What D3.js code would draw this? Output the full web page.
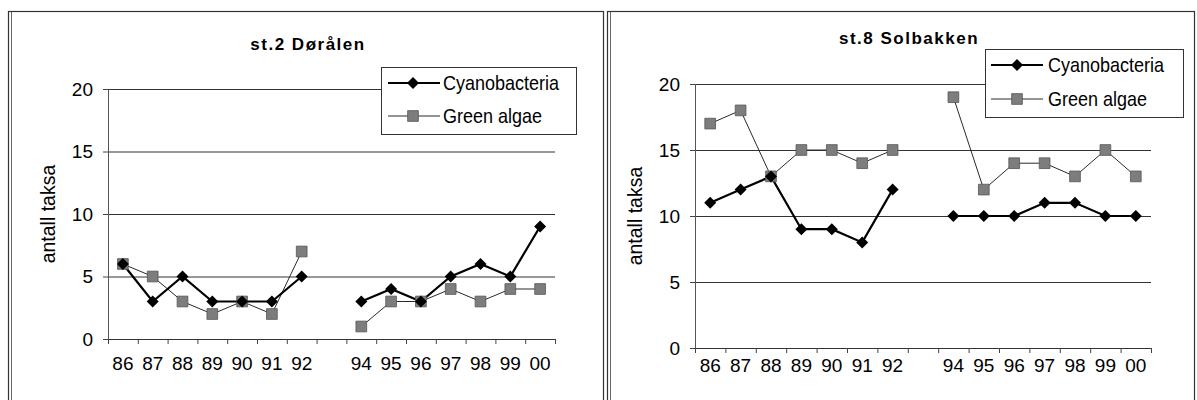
<!DOCTYPE html>
<html>
<head>
<meta charset="utf-8">
<script src="https://cdn.jsdelivr.net/npm/d3@7"></script>
<style>
  html, body { margin: 0; padding: 0; background: #fff; }
  svg { display: block; font-family: "Liberation Sans", Arial, sans-serif; }
</style>
</head>
<body>
<svg id="chart" width="1197" height="400"></svg>
<script>
// ---- data ----
const categories = ["86","87","88","89","90","91","92","93","94","95","96","97","98","99","00"];
const tickLabels = ["86","87","88","89","90","91","92","","94","95","96","97","98","99","00"];
const yTicks = [0, 5, 10, 15, 20];
const seriesNames = ["Cyanobacteria", "Green algae"];
const doralenCyano = [6, 3, 5, 3, 3, 3, 5, null, 3, 4, 3, 5, 6, 5, 9];
const doralenGreen = [6, 5, 3, 2, 3, 2, 7, null, 1, 3, 3, 4, 3, 4, 4];
const solbakkenCyano = [11, 12, 13, 9, 9, 8, 12, null, 10, 10, 10, 11, 11, 10, 10];
const solbakkenGreen = [17, 18, 13, 15, 15, 14, 15, null, 19, 12, 14, 14, 13, 15, 13];
const titles = ["st.2 Dørålen", "st.8 Solbakken"];
const yAxisTitle = "antall taksa";

// ---- layout ----
const layouts = [
  { frame: {x: 8, y: 11, w: 595, h: 400}, plot: {l: 108, r: 555, t: 89, b: 339},
    title: {x: 308, y: 44}, ylab: {x: 48}, xlabY: 363,
    legend: {x: 381, y: 67, w: 195, h: 67, r1: 83, r2: 116, l0: 388, l1: 440, m: 413, tx: 443} },
  { frame: {x: 607, y: 11, w: 587, h: 400}, plot: {l: 695, r: 1151, t: 84, b: 348},
    title: {x: 909, y: 38}, ylab: {x: 635}, xlabY: 365,
    legend: {x: 985, y: 49, w: 198, h: 68, r1: 65, r2: 99, l0: 991, l1: 1043, m: 1017, tx: 1048} }
];
const dataSets = [[doralenCyano, doralenGreen], [solbakkenCyano, solbakkenGreen]];

const svg = d3.select("#chart");
const squareFill = "#7d7d7d";

function drawChart(L, data, title) {
  const g = svg.append("g");
  // frame
  g.append("rect").attr("x", L.frame.x + 0.5).attr("y", L.frame.y + 0.5)
    .attr("width", L.frame.w).attr("height", L.frame.h)
    .attr("fill", "none").attr("stroke", "#333").attr("stroke-width", 1.2);
  g.append("line").attr("x1", L.frame.x + 3.5).attr("x2", L.frame.x + 3.5)
    .attr("y1", L.frame.y + 1).attr("y2", 400).attr("stroke", "#666").attr("stroke-width", 1);

  const x = d3.scaleBand().domain(categories).range([L.plot.l, L.plot.r]).padding(0);
  const xb = d3.scaleLinear().domain([0, categories.length]).range([L.plot.l, L.plot.r]);
  const y = d3.scaleLinear().domain([0, 20]).range([L.plot.b, L.plot.t]);
  const w = L.plot.r - L.plot.l;

  // gridlines
  g.append("g").attr("transform", `translate(${L.plot.l},0)`)
    .call(d3.axisLeft(y).tickValues(yTicks.filter(v => v > 0)).tickSize(-w).tickFormat(""))
    .call(a => a.select(".domain").remove())
    .call(a => a.selectAll("line").attr("stroke", "#333").attr("stroke-width", 1));

  // y axis
  g.append("g").attr("transform", `translate(${L.plot.l},0)`)
    .call(d3.axisLeft(y).tickValues(yTicks).tickSize(5).tickPadding(10))
    .call(a => a.select(".domain").attr("stroke", "#555"))
    .call(a => a.selectAll("line").attr("stroke", "#444"))
    .call(a => a.selectAll("text").attr("font-size", 19).attr("fill", "#000")
      .attr("font-family", "Liberation Sans, Arial, sans-serif"));

  // x axis with boundary ticks
  g.append("g").attr("transform", `translate(0,${L.plot.b})`)
    .call(d3.axisBottom(xb).tickValues(d3.range(categories.length + 1)).tickSize(5).tickFormat(""))
    .call(a => a.select(".domain").attr("stroke", "#333"))
    .call(a => a.selectAll("line").attr("stroke", "#444"));
  g.append("g").attr("transform", `translate(0,${L.plot.b})`)
    .call(d3.axisBottom(x).tickSize(0).tickFormat((d, i) => tickLabels[i]))
    .call(a => a.select(".domain").remove())
    .call(a => a.selectAll("text").attr("y", 0).attr("dy", null)
      .attr("transform", `translate(0,${L.xlabY - L.plot.b})`)
      .attr("dominant-baseline", "central")
      .attr("font-size", 19).attr("fill", "#000")
      .attr("font-family", "Liberation Sans, Arial, sans-serif"));

  // titles
  g.append("text").attr("x", L.title.x).attr("y", L.title.y).attr("text-anchor", "middle")
    .attr("dominant-baseline", "central").attr("font-weight", "bold").attr("font-size", 17)
    .attr("letter-spacing", 1.5).text(title);
  const cy = (L.plot.t + L.plot.b) / 2;
  g.append("text").attr("transform", `translate(${L.ylab.x},${cy}) rotate(-90)`)
    .attr("text-anchor", "middle").attr("dominant-baseline", "central")
    .attr("font-size", 19.5).text(yAxisTitle);

  const pts = arr => categories.map((c, i) => ({c, v: arr[i]}));
  const line = d3.line().defined(d => d.v != null)
    .x(d => x(d.c) + x.bandwidth() / 2).y(d => y(d.v));

  const diamond = d3.symbol(d3.symbolSquare, 72);
  const square = d3.symbol(d3.symbolSquare, 115);

  // green algae
  const green = pts(data[1]);
  g.append("path").attr("d", line(green)).attr("fill", "none")
    .attr("stroke", "#2a2a2a").attr("stroke-width", 1);
  // cyanobacteria
  const cyano = pts(data[0]);
  g.append("path").attr("d", line(cyano)).attr("fill", "none")
    .attr("stroke", "#000").attr("stroke-width", 2.2);
  g.selectAll(null).data(green.filter(d => d.v != null)).join("path")
    .attr("transform", d => `translate(${x(d.c) + x.bandwidth() / 2},${y(d.v)})`)
    .attr("d", square).attr("fill", squareFill).attr("stroke", "#555").attr("stroke-width", 0.8);
  g.selectAll(null).data(cyano.filter(d => d.v != null)).join("path")
    .attr("transform", d => `translate(${x(d.c) + x.bandwidth() / 2},${y(d.v)}) rotate(45)`)
    .attr("d", diamond).attr("fill", "#000");

  // legend
  const Lg = L.legend;
  const lg = g.append("g");
  lg.append("rect").attr("x", Lg.x + 0.5).attr("y", Lg.y + 0.5).attr("width", Lg.w).attr("height", Lg.h)
    .attr("fill", "#fff").attr("stroke", "#333").attr("stroke-width", 1);
  lg.append("line").attr("x1", Lg.l0).attr("x2", Lg.l1).attr("y1", Lg.r1).attr("y2", Lg.r1)
    .attr("stroke", "#000").attr("stroke-width", 2.2);
  lg.append("path").attr("transform", `translate(${Lg.m},${Lg.r1}) rotate(45)`).attr("d", diamond).attr("fill", "#000");
  lg.append("line").attr("x1", Lg.l0).attr("x2", Lg.l1).attr("y1", Lg.r2).attr("y2", Lg.r2)
    .attr("stroke", "#2a2a2a").attr("stroke-width", 1);
  lg.append("path").attr("transform", `translate(${Lg.m},${Lg.r2})`).attr("d", square)
    .attr("fill", squareFill).attr("stroke", "#555").attr("stroke-width", 0.8);
  [Lg.r1, Lg.r2].forEach((ry, i) => {
    lg.append("text").attr("transform", `translate(${Lg.tx},${ry}) scale(0.9,1)`)
      .attr("dominant-baseline", "central").attr("font-size", 20).text(seriesNames[i]);
  });
}

layouts.forEach((L, i) => drawChart(L, dataSets[i], titles[i]));
</script>
</body>
</html>
